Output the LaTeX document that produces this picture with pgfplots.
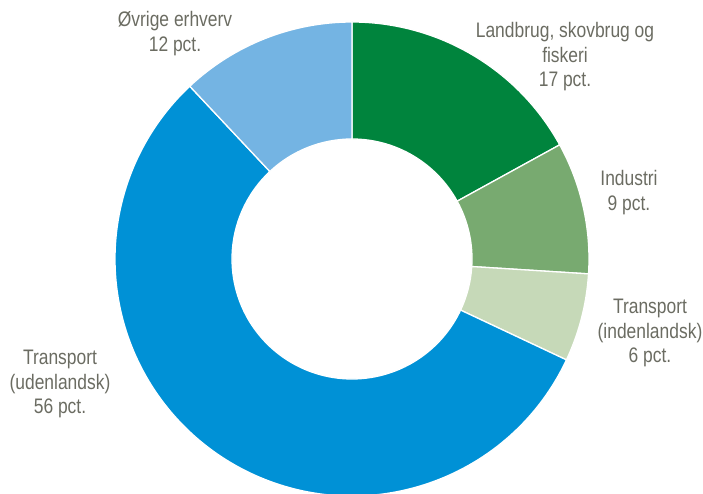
\documentclass[border=0pt]{standalone}
\usepackage{pgfplots}
\usepackage{pgfplotstable}
\pgfplotsset{compat=1.18}
\usepackage{fontspec}
\setmainfont[FakeStretch=0.83]{Liberation Sans}
\definecolor{seg0}{HTML}{00843D}
\definecolor{seg1}{HTML}{78AA70}
\definecolor{seg2}{HTML}{C6D9B8}
\definecolor{seg3}{HTML}{0091D6}
\definecolor{seg4}{HTML}{74B4E3}
\definecolor{txt}{HTML}{6B6C62}
\pgfplotstableread[col sep=comma]{
name,value
Landbrug skovbrug og fiskeri,17
Industri,9
Transport (indenlandsk),6
Transport (udenlandsk),56
Oevrige erhverv,12
}\piedata
\begin{document}
\begin{tikzpicture}
\begin{axis}[
  name=ax,
  scale only axis, width=703pt, height=494pt,
  xmin=0, xmax=703, ymin=0, ymax=494,
  hide axis,
]
\def\cx{352}
\def\cy{235}
\def\curang{90}
\pgfplotsforeachungrouped \i in {0,...,4}{
  \pgfplotstablegetelem{\i}{value}\of\piedata
  \pgfmathsetmacro\endang{\curang - 3.6*\pgfplotsretval}
  \edef\tmp{\noexpand\fill[fill=seg\i, draw=white, line width=1.3pt, line join=round]
    ([shift={(\curang:237pt)}]axis cs:\cx,\cy)
    arc[start angle=\curang, end angle=\endang, radius=237pt]
    -- ([shift={(\endang:120pt)}]axis cs:\cx,\cy)
    arc[start angle=\endang, end angle=\curang, radius=120pt] -- cycle;}
  \tmp
  \global\let\curang\endang
}
\begin{scope}[every node/.style={align=center, text=txt, font=\fontsize{21}{24.5}\selectfont}]
\node at (axis cs:565,437) {Landbrug, skovbrug og\\fiskeri\\17 pct.};
\node at (axis cs:175,460.5) {Øvrige erhverv\\12 pct.};
\node at (axis cs:629,301.5) {Industri\\9 pct.};
\node at (axis cs:650,161) {Transport\\(indenlandsk)\\6 pct.};
\node at (axis cs:60,110) {Transport\\(udenlandsk)\\56 pct.};
\end{scope}
\end{axis}
\pgfresetboundingbox
\path[use as bounding box] (ax.south west) rectangle (ax.north east);
\end{tikzpicture}
\end{document}
